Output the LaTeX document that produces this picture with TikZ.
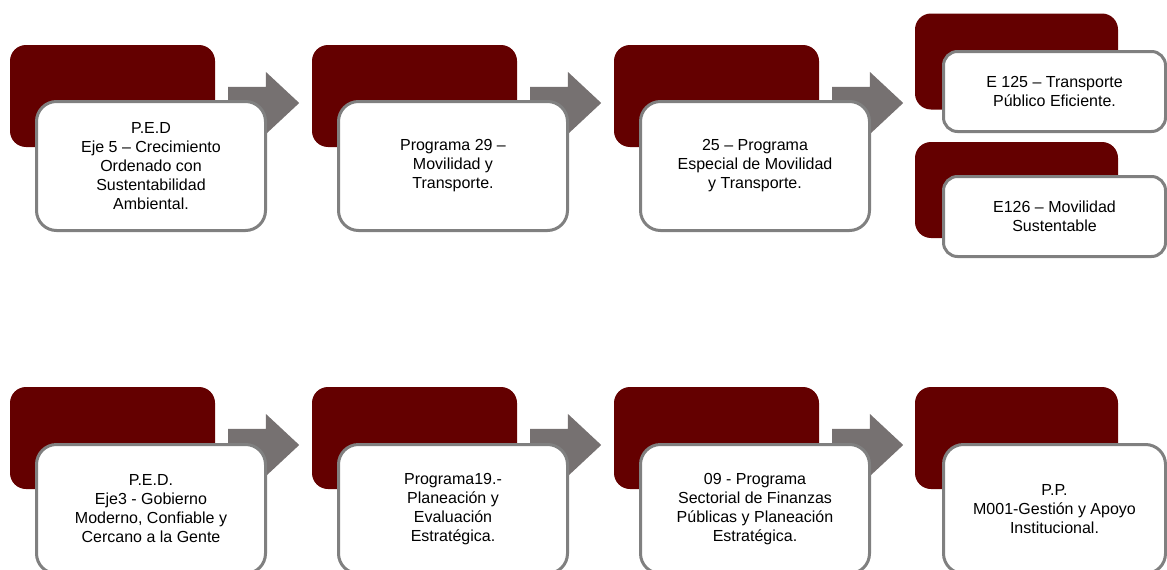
\documentclass[tikz,border=0pt]{standalone}
\usepackage{fontspec}
\setmainfont{Liberation Sans}
\usetikzlibrary{shapes.arrows}
\definecolor{maroon}{RGB}{100,0,0}
\definecolor{cardgray}{RGB}{128,128,128}
\definecolor{arrowgray}{RGB}{118,113,113}
\newcommand\cardfont{\fontsize{16}{19}\selectfont}
\newcommand\shaft{\rule{0pt}{32pt}}
\begin{document}
\begin{tikzpicture}
	[
	x = {(1pt, 0pt)},
	y = {(0pt, -1pt)},
	back/.style = {fill = maroon, rounded corners = 16pt, minimum width = 205pt, minimum height = 102pt, inner sep = 0pt},
	smallback/.style = {back, minimum width = 203pt, minimum height = 96pt},
	card/.style = {fill = white, draw = cardgray, line width = 3pt, rounded corners = 20pt, minimum width = 229pt, minimum height = 129pt, inner sep = 0pt, align = center, font = \cardfont},
	smallcard/.style = {card, minimum width = 222pt, minimum height = 80pt, rounded corners = 14pt},
	flow/.style = {single arrow, fill = arrowgray, minimum width = 62pt, minimum height = 71pt, single arrow head extend = 15pt, single arrow tip angle = 86, inner sep = 0pt, anchor = west}]
	
	\useasboundingbox (0, 0) rectangle (1167, 570);
	
	%% Upper row
	
	\node[back] (ped5back) at (112.5, 96) {};
	\node[flow] (ped5arrow) at (228, 103) {\shaft};
	\node[card] (ped5card) at (151, 166) {P.E.D\\Eje 5 – Crecimiento\\Ordenado con\\Sustentabilidad\\Ambiental.};
	
	\node[back] (prog29back) at (414.5, 96) {};
	\node[flow] (prog29arrow) at (530, 103) {\shaft};
	\node[card] (prog29card) at (453, 166) {Programa 29 –\\Movilidad y\\Transporte.};
	
	\node[back] (esp25back) at (716.5, 96) {};
	\node[flow] (esp25arrow) at (832, 103) {\shaft};
	\node[card] (esp25card) at (755, 166) {25 – Programa\\Especial de Movilidad\\y Transporte.};
	
	\node[smallback] (e125back) at (1016.5, 61.5) {};
	\node[smallcard] (e125card) at (1054.5, 91.5) {E 125 – Transporte\\Público Eficiente.};
	
	\node[smallback] (e126back) at (1016.5, 190) {};
	\node[smallcard] (e126card) at (1054.5, 216.5) {E126 – Movilidad\\Sustentable};
	
	%% Lower row
	
	\node[back] (ped3back) at (112.5, 438) {};
	\node[flow] (ped3arrow) at (228, 445) {\shaft};
	\node[card] (ped3card) at (151, 509) {P.E.D.\\Eje3 - Gobierno\\Moderno, Confiable y\\Cercano a la Gente};
	
	\node[back] (prog19back) at (414.5, 438) {};
	\node[flow] (prog19arrow) at (530, 445) {\shaft};
	\node[card] (prog19card) at (453, 509) {Programa19.-\\Planeación y\\Evaluación\\Estratégica.};
	
	\node[back] (sect09back) at (716.5, 438) {};
	\node[flow] (sect09arrow) at (832, 445) {\shaft};
	\node[card] (sect09card) at (755, 509) {09 - Programa\\Sectorial de Finanzas\\Públicas y Planeación\\Estratégica.};
	
	\node[back, minimum width = 203pt] (m001back) at (1016.5, 438) {};
	\node[card, minimum width = 222pt] (m001card) at (1054.5, 509) {P.P.\\M001-Gestión y Apoyo\\Institucional.};
\end{tikzpicture}
\end{document}
